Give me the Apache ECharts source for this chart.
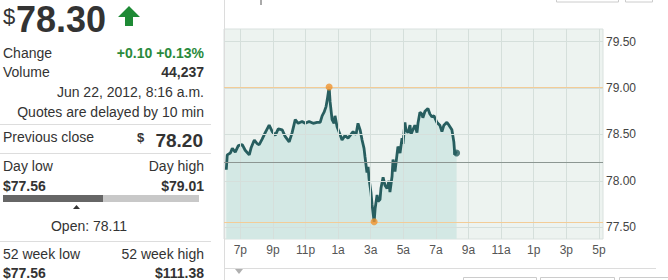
<!DOCTYPE html>
<html>
<head>
<meta charset="utf-8">
<script src="https://cdn.jsdelivr.net/npm/echarts@6/dist/echarts.min.js"></script>
<style>
html,body{margin:0;padding:0;background:#fff;}
#c{width:668px;height:280px;}
</style>
</head>
<body>
<div id="c"></div>
<script>
// hours after 18:00 (previous day), intraday price
const hours = [0.14,0.20,0.39,0.51,0.69,0.88,1.12,1.30,1.55,1.67,1.86,2.04,2.16,2.34,2.53,2.77,2.96,3.14,3.33,3.57,3.75,4.00,4.18,4.37,4.55,4.79,4.98,5.22,5.47,5.71,5.90,6.02,6.14,6.26,6.33,6.45,6.51,6.63,6.75,6.81,6.94,7.12,7.24,7.43,7.61,7.79,7.92,8.10,8.22,8.35,8.47,8.59,8.65,8.77,8.84,8.90,9.02,9.08,9.21,9.27,9.39,9.45,9.57,9.63,9.76,9.88,10.00,10.12,10.18,10.31,10.37,10.49,10.61,10.67,10.80,10.92,10.98,11.10,11.16,11.29,11.41,11.47,11.59,11.71,11.84,11.90,12.02,12.14,12.20,12.33,12.51,12.63,12.76,12.88,13.06,13.24,13.37,13.49,13.67,13.80,13.98,14.10,14.16,14.22,14.27];
const prices = [78.12,78.28,78.30,78.35,78.31,78.38,78.39,78.33,78.28,78.36,78.44,78.40,78.39,78.45,78.52,78.60,78.53,78.49,78.56,78.55,78.48,78.42,78.52,78.66,78.62,78.64,78.62,78.64,78.62,78.63,78.63,78.70,78.74,78.80,78.87,79.01,78.85,78.66,78.62,78.70,78.58,78.50,78.44,78.49,78.46,78.50,78.53,78.50,78.62,78.55,78.44,78.35,78.26,78.09,78.15,78.02,77.87,77.75,77.56,77.70,77.85,77.78,77.80,77.92,78.04,77.95,77.92,78.00,77.88,78.05,78.23,78.10,78.28,78.37,78.30,78.46,78.40,78.63,78.55,78.52,78.60,78.50,78.55,78.60,78.52,78.62,78.74,78.72,78.68,78.75,78.78,78.72,78.69,78.70,78.63,78.60,78.53,78.60,78.63,78.60,78.55,78.42,78.28,78.31,78.30];
const yTicks = [77.5, 78.0, 78.5, 79.0, 79.5];
const xTickHours = [1,3,5,7,9,11,13,15,17,19,21,23];
const xTickLabels = ['7p','9p','11p','1a','3a','5a','7a','9a','11a','1p','3p','5p'];
const prevClose = 78.20;
const dayHigh = 79.01, dayHighHour = 6.45;
const dayLow = 77.56, dayLowHour = 9.21;
const lastPrice = 78.30, lastHour = 14.27;

const chart = echarts.init(document.getElementById('c'), null, {renderer:'svg'});
const FF = '"Liberation Sans", Arial, sans-serif';
function txt(t, x, y, size, opts) {
  opts = opts || {};
  return {type:'text', silent:true, z:100, style:{text:t, x:x, y:y, fontSize:size, fontFamily:FF,
    fontWeight:opts.bold?'bold':'normal', fill:opts.color||'#333', align:opts.align||'left', verticalAlign:'middle'}};
}
const label = {};
xTickHours.forEach((h,i)=>{label[h]=xTickLabels[i];});

const gridLineData = yTicks.map(v=>({yAxis:v})).concat(xTickHours.map(h=>({xAxis:h})));

chart.setOption({
  animation:false,
  grid:{left:224, top:29, right:65, bottom:41, show:true, backgroundColor:'#edf3f0', borderColor:'#d9e1de', borderWidth:1},
  xAxis:{type:'value', min:0, max:23.25,
    axisLine:{show:false}, axisTick:{show:false}, splitLine:{show:false},
    axisLabel:{customValues:xTickHours, formatter:v=>label[Math.round(v)]||'', color:'#555', fontSize:12, fontFamily:FF, margin:5}},
  yAxis:{type:'value', position:'right', min:77.375, max:79.635, scale:true,
    axisLine:{show:false}, axisTick:{show:false}, splitLine:{show:false},
    axisLabel:{customValues:yTicks, formatter:v=>v.toFixed(2), color:'#444', fontSize:12, fontFamily:FF, margin:3}},
  series:[
    {type:'line', data:[], silent:true, z:1,
     markLine:{silent:true, symbol:'none', label:{show:false}, lineStyle:{color:'#d5dfdb', width:1, type:'solid'}, data:gridLineData}},
    {type:'line', data:hours.map((h,i)=>[h,prices[i]]), showSymbol:false, z:3,
     lineStyle:{color:'#275e5f', width:2.8}, areaStyle:{color:'#d3e8e4', origin:'start', opacity:1},
     markLine:{silent:true, symbol:'none', label:{show:false}, data:[
       {yAxis:prevClose, lineStyle:{color:'#8c9692', width:1, type:'solid'}},
       {yAxis:dayHigh, lineStyle:{color:'#f3cc97', width:1, type:'solid'}},
       {yAxis:dayLow, lineStyle:{color:'#f3cc97', width:1, type:'solid'}}
     ]}},
    {type:'scatter', z:5, symbolSize:7, itemStyle:{color:'#ef9330'}, data:[[dayHighHour,dayHigh],[dayLowHour,dayLow]]},
    {type:'scatter', z:5, symbolSize:7, itemStyle:{color:'#275e5f'}, data:[[lastHour,lastPrice]]}
  ],
  graphic:[
    // panel borders
    {type:'line', silent:true, shape:{x1:224.5,y1:0,x2:224.5,y2:280}, style:{stroke:'#dcdcdc', lineWidth:1}},
    {type:'line', silent:true, shape:{x1:224,y1:268.5,x2:656,y2:268.5}, style:{stroke:'#dcdcdc', lineWidth:1}},
    {type:'polygon', silent:true, shape:{points:[[235,269],[243,269],[239,274]]}, style:{fill:'#b0b0b0'}},
    {type:'rect', silent:true, shape:{x:463.5,y:277.5,width:73,height:10}, style:{fill:'none', stroke:'#ccc'}},
    {type:'rect', silent:true, shape:{x:540.5,y:277.5,width:74,height:10}, style:{fill:'none', stroke:'#ccc'}},
    {type:'rect', silent:true, shape:{x:619.5,y:277.5,width:60,height:10}, style:{fill:'none', stroke:'#ccc'}},
    {type:'rect', silent:true, shape:{x:556.5,y:-10,width:62,height:12}, style:{fill:'none', stroke:'#ccc'}},
    {type:'rect', silent:true, shape:{x:625.5,y:-10,width:27,height:12}, style:{fill:'none', stroke:'#ccc'}},
    {type:'line', silent:true, shape:{x1:261,y1:0,x2:261,y2:5}, style:{stroke:'#555', lineWidth:1}},
    // left quote panel
    txt('$', 3, 16, 22, {}),
    txt('78.30', 16, 19.5, 36, {bold:true}),
    {type:'polygon', silent:true, shape:{points:[[129,6],[140,17],[133,17],[133,26],[125,26],[125,17],[118,17]]}, style:{fill:'#1e8a35'}},
    txt('Change', 3, 53, 14),
    txt('+0.10 +0.13%', 204, 53, 14, {bold:true, color:'#2a8a3c', align:'right'}),
    txt('Volume', 3, 72, 14),
    txt('44,237', 204, 72, 14, {bold:true, align:'right'}),
    txt('Jun 22, 2012, 8:16 a.m.', 204, 92, 14, {align:'right'}),
    txt('Quotes are delayed by 10 min', 204, 112, 14, {align:'right'}),
    {type:'line', silent:true, shape:{x1:0,y1:124.5,x2:211,y2:124.5}, style:{stroke:'#dddddd', lineWidth:1}},
    txt('Previous close', 3, 137, 14),
    txt('$', 137, 137, 13, {bold:true}),
    txt('78.20', 203, 140, 19, {bold:true, align:'right'}),
    {type:'line', silent:true, shape:{x1:0,y1:153.5,x2:211,y2:153.5}, style:{stroke:'#dddddd', lineWidth:1}},
    txt('Day low', 3, 166, 14),
    txt('Day high', 204, 166, 14, {align:'right'}),
    txt('$77.56', 3, 186, 14, {bold:true}),
    txt('$79.01', 204, 186, 14, {bold:true, align:'right'}),
    {type:'rect', silent:true, shape:{x:3,y:195,width:100,height:7}, style:{fill:'#666666'}},
    {type:'rect', silent:true, shape:{x:103,y:195,width:96,height:7}, style:{fill:'#c8c8c8'}},
    {type:'polygon', silent:true, shape:{points:[[73,209],[80,209],[76.5,205]]}, style:{fill:'#333'}},
    txt('Open: 78.11', 89, 226, 14, {align:'center'}),
    {type:'line', silent:true, shape:{x1:0,y1:241.5,x2:211,y2:241.5}, style:{stroke:'#dddddd', lineWidth:1}},
    txt('52 week low', 3, 254, 14),
    txt('52 week high', 204, 254, 14, {align:'right'}),
    txt('$77.56', 3, 273, 14, {bold:true}),
    txt('$111.38', 204, 273, 14, {bold:true, align:'right'})
  ]
});
</script>
</body>
</html>
